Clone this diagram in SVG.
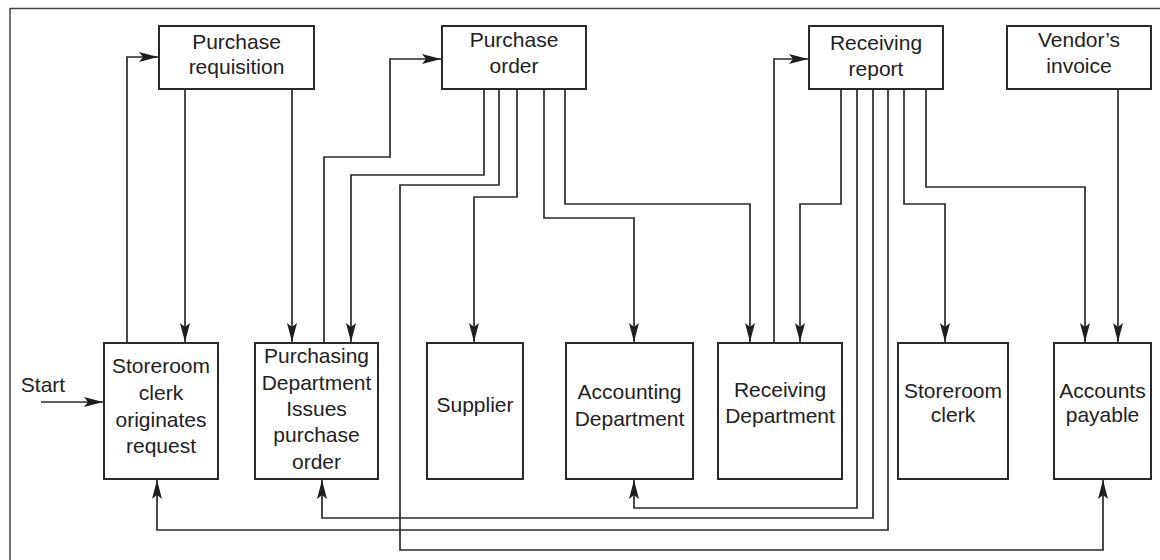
<svg xmlns="http://www.w3.org/2000/svg" width="1160" height="560" viewBox="0 0 1160 560">
  <defs>
    <style>
      .frame { fill: none; stroke: #444; stroke-width: 1.5; }
      .box { fill: #fff; stroke: #2a2a2a; stroke-width: 2; }
      .lbl { font-family: "Liberation Sans", Arial, sans-serif; font-size: 21px; fill: #222; text-anchor: middle; }
      .wire { fill: none; stroke: #2a2a2a; stroke-width: 1.7; marker-end: url(#arrow); }
    </style>
    <marker id="arrow" markerUnits="userSpaceOnUse" markerWidth="20" markerHeight="12" viewBox="0 0 20 12" refX="19" refY="6" orient="auto">
      <path d="M0,1 L19,6 L0,11 L4,6 Z" fill="#1e1e1e"/>
    </marker>
  </defs>

  <rect x="0" y="0" width="1160" height="560" fill="#fff"/>
  <rect class="frame" x="10" y="8.5" width="1160" height="560"/>

  <!-- connectors -->
  <g id="connectors">
    <path class="wire" d="M41,402 H103"/>
    <path class="wire" d="M127,343 V57 H158"/>
    <path class="wire" d="M185,89 V342"/>
    <path class="wire" d="M292,89 V342"/>
    <path class="wire" d="M324,343 V157 H390 V59 H441"/>
    <path class="wire" d="M484,89 V175 H351 V342"/>
    <path class="wire" d="M499,89 V185 H400 V550 H1103 V480"/>
    <path class="wire" d="M517,89 V197 H474 V342"/>
    <path class="wire" d="M544,89 V218 H634 V342"/>
    <path class="wire" d="M565,89 V204 H750 V342"/>
    <path class="wire" d="M774,343 V59 H808"/>
    <path class="wire" d="M841,89 V204 H800 V342"/>
    <path class="wire" d="M857,89 V508 H634 V480"/>
    <path class="wire" d="M873,89 V518 H322 V480"/>
    <path class="wire" d="M888,89 V530 H157 V480"/>
    <path class="wire" d="M904,89 V204 H945 V342"/>
    <path class="wire" d="M926,89 V187 H1085 V342"/>
    <path class="wire" d="M1118,89 V342"/>
  </g>

  <text class="lbl" x="43" y="392">Start</text>

  <!-- documents -->
  <g id="purchase-requisition">
    <rect class="box" x="159" y="26" width="155" height="63"/>
    <text class="lbl" x="236.5" y="49">Purchase</text>
    <text class="lbl" x="236.5" y="74">requisition</text>
  </g>
  <g id="purchase-order">
    <rect class="box" x="442" y="26" width="144" height="63"/>
    <text class="lbl" x="514" y="47">Purchase</text>
    <text class="lbl" x="514" y="73">order</text>
  </g>
  <g id="receiving-report">
    <rect class="box" x="809" y="26" width="134" height="63"/>
    <text class="lbl" x="876" y="50">Receiving</text>
    <text class="lbl" x="876" y="76">report</text>
  </g>
  <g id="vendors-invoice">
    <rect class="box" x="1007" y="26" width="144" height="63"/>
    <text class="lbl" x="1079" y="47">Vendor’s</text>
    <text class="lbl" x="1079" y="73">invoice</text>
  </g>

  <!-- departments -->
  <g id="storeroom-originates">
    <rect class="box" x="104" y="343" width="114" height="136"/>
    <text class="lbl" x="161" y="373">Storeroom</text>
    <text class="lbl" x="161" y="400">clerk</text>
    <text class="lbl" x="161" y="427">originates</text>
    <text class="lbl" x="161" y="453">request</text>
  </g>
  <g id="purchasing-department">
    <rect class="box" x="255" y="343" width="123" height="136"/>
    <text class="lbl" x="316.5" y="363">Purchasing</text>
    <text class="lbl" x="316.5" y="390">Department</text>
    <text class="lbl" x="316.5" y="416">Issues</text>
    <text class="lbl" x="316.5" y="442">purchase</text>
    <text class="lbl" x="316.5" y="469">order</text>
  </g>
  <g id="supplier">
    <rect class="box" x="427" y="343" width="96" height="136"/>
    <text class="lbl" x="475" y="412">Supplier</text>
  </g>
  <g id="accounting-department">
    <rect class="box" x="566" y="343" width="127" height="136"/>
    <text class="lbl" x="629.5" y="399">Accounting</text>
    <text class="lbl" x="629.5" y="426">Department</text>
  </g>
  <g id="receiving-department">
    <rect class="box" x="718" y="343" width="124" height="136"/>
    <text class="lbl" x="780" y="397">Receiving</text>
    <text class="lbl" x="780" y="423">Department</text>
  </g>
  <g id="storeroom-clerk">
    <rect class="box" x="898" y="343" width="110" height="136"/>
    <text class="lbl" x="953" y="398">Storeroom</text>
    <text class="lbl" x="953" y="422">clerk</text>
  </g>
  <g id="accounts-payable">
    <rect class="box" x="1054" y="343" width="97" height="136"/>
    <text class="lbl" x="1102.5" y="398">Accounts</text>
    <text class="lbl" x="1102.5" y="422">payable</text>
  </g>
</svg>
